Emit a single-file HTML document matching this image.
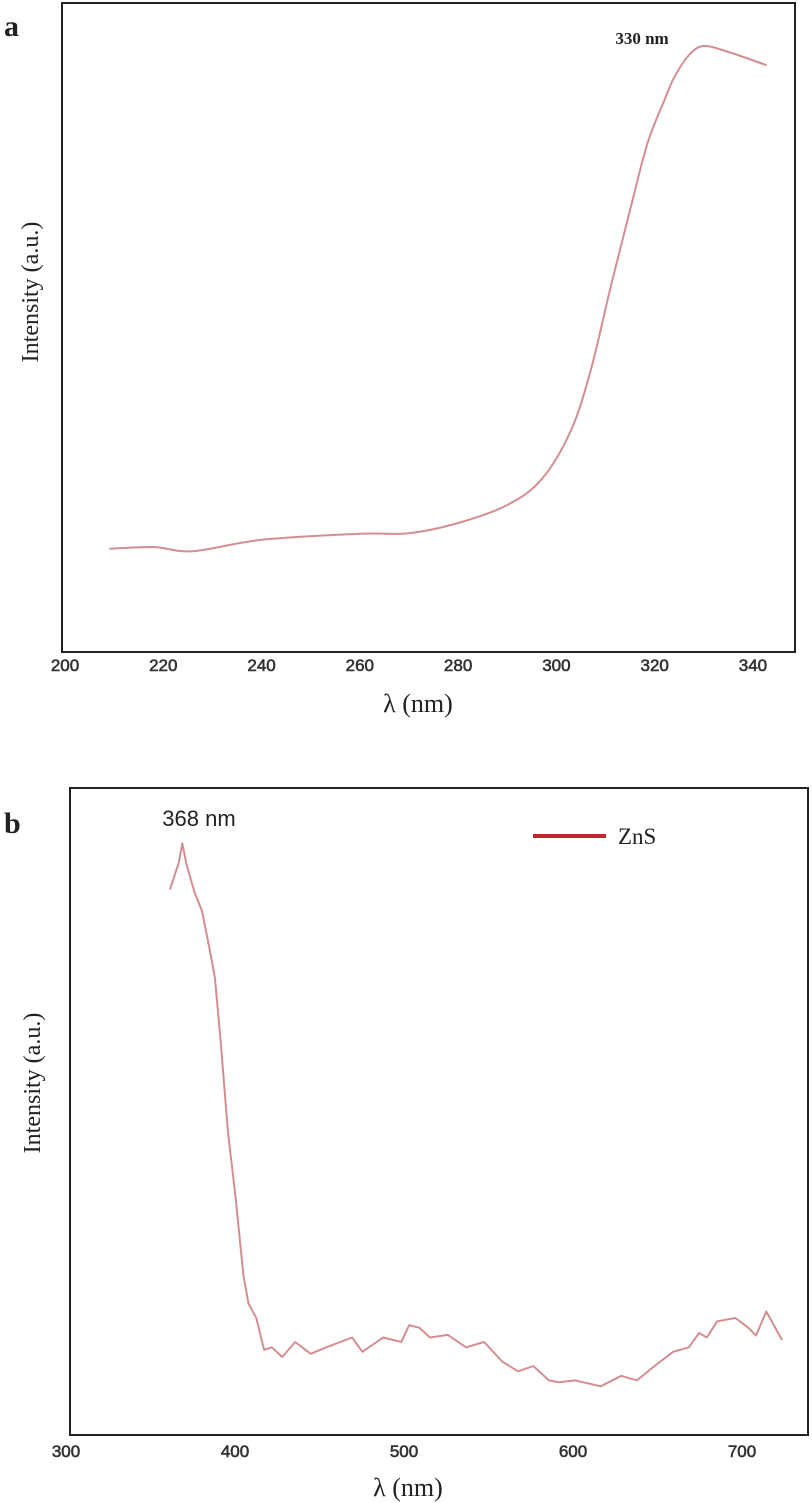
<!DOCTYPE html>
<html><head><meta charset="utf-8">
<style>
html,body{margin:0;padding:0;background:#fff;}
svg{display:block;}
.tick{font-family:"Liberation Sans",sans-serif;font-size:17px;fill:#333;stroke:#333;stroke-width:0.6;}
.serif{font-family:"Liberation Serif",serif;fill:#222;}
</style></head>
<body>
<svg id="chart" width="812" height="1503" viewBox="0 0 812 1503" xmlns="http://www.w3.org/2000/svg">
  <text x="4" y="36" class="serif" font-size="30" font-weight="bold">a</text>
  <text x="4" y="833" class="serif" font-size="30" font-weight="bold">b</text>
  <rect x="62" y="3" width="733" height="649" fill="none" stroke="#222" stroke-width="2"/>
  <rect x="70" y="788" width="738" height="647" fill="none" stroke="#222" stroke-width="2"/>
  <text transform="translate(38,292) rotate(-90)" text-anchor="middle" class="serif" font-size="24">Intensity (a.u.)</text>
  <text transform="translate(40,1083) rotate(-90)" text-anchor="middle" class="serif" font-size="24">Intensity (a.u.)</text>
  <text x="418" y="712" text-anchor="middle" class="serif" font-size="26">λ (nm)</text>
  <text x="408" y="1496" text-anchor="middle" class="serif" font-size="26">λ (nm)</text>
  <text x="642" y="44" text-anchor="middle" class="serif" font-size="17" font-weight="bold">330 nm</text>
  <text x="199" y="826" text-anchor="middle" font-family="Liberation Sans, sans-serif" font-size="22" fill="#222">368 nm</text>
  <line x1="533" y1="836" x2="606" y2="836" stroke="#c0282d" stroke-width="4"/>
  <text x="618" y="844" class="serif" font-size="23">ZnS</text>
  <g id="ga"></g>
  <g id="gb"></g>
</svg>
<script>
const aTicks = [200,220,240,260,280,300,320,340];
const aX = [209,218,226,240,260,270,280,290,297,303,307,311,315,318.5,322,324,327,330,335,342.8];
const aY = [17.2,17.5,16.8,18.7,19.7,19.8,21.5,24.5,28.8,37,47,60.7,73.7,84.7,92,95.8,99.5,101,100,97.8];
const bTicks = [300,400,500,600,700];
const bX = [361.5,366.7,368.8,371.3,375.9,380.5,385.0,388.1,391.2,395.8,400.4,405.0,408.0,412.6,417.2,421.8,427.9,435.6,444.8,454.0,469.3,475.4,487.7,498.4,503.0,509.2,515.3,526.0,536.7,547.4,558.1,567.4,576.6,585.7,591.9,601.1,616.4,628.6,637.8,650.1,659.3,668.5,674.6,679.2,685.3,696.1,703.7,708.3,714.4,723.7];
const bY = [83.9,88.0,91.0,87.8,83.6,80.6,74.7,70.3,61.6,46.7,36.4,24.6,20.2,18.0,13.1,13.5,12.0,14.3,12.5,13.5,15.0,12.8,15.0,14.3,16.9,16.5,15.0,15.4,13.5,14.3,11.3,9.8,10.6,8.4,8.1,8.4,7.5,9.1,8.4,11.0,12.8,13.5,15.7,15.0,17.5,18.0,16.5,15.3,19.0,14.6];

const NS = "http://www.w3.org/2000/svg";
const xA = v => 65 + (v - 200) * 4.914;
const yA = v => 652 - v * 6;
const xB = v => 66 + (v - 300) * 1.69;
const yB = v => 1435 - v * 6.5;

function draw(g, xs, ys, fx, fy, name, smooth){
  const P = xs.map((x,i)=>[fx(x), fy(ys[i])]);
  let d = "M" + P[0][0].toFixed(1) + "," + P[0][1].toFixed(1);
  for(let i=1;i<P.length;i++){
    if(smooth){
      const p0 = P[Math.max(i-2,0)], p1 = P[i-1], p2 = P[i], p3 = P[Math.min(i+1,P.length-1)];
      const c1 = [p1[0]+(p2[0]-p0[0])/6, p1[1]+(p2[1]-p0[1])/6];
      const c2 = [p2[0]-(p3[0]-p1[0])/6, p2[1]-(p3[1]-p1[1])/6];
      d += "C"+c1[0].toFixed(1)+","+c1[1].toFixed(1)+" "+c2[0].toFixed(1)+","+c2[1].toFixed(1)+" "+p2[0].toFixed(1)+","+p2[1].toFixed(1);
    } else {
      d += "L" + P[i][0].toFixed(1) + "," + P[i][1].toFixed(1);
    }
  }
  const p = document.createElementNS(NS,"path");
  p.setAttribute("d", d);
  p.setAttribute("fill","none");
  p.setAttribute("stroke","#d48e92");
  p.setAttribute("stroke-width","2");
  p.setAttribute("stroke-linejoin","round");
  
  
  g.appendChild(p);
}
function ticks(g, vals, fx, y, name){
  vals.forEach(v=>{
    const t = document.createElementNS(NS,"text");
    t.setAttribute("x", fx(v));
    t.setAttribute("y", y);
    t.setAttribute("text-anchor","middle");
    t.setAttribute("class","tick");
    t.textContent = v;
    
    
    g.appendChild(t);
  });
}
const ga = document.getElementById("ga"), gb = document.getElementById("gb");
ticks(ga, aTicks, xA, 671, "x-tick-label-a");
ticks(gb, bTicks, xB, 1457, "x-tick-label-b");
draw(ga, aX, aY, xA, yA, "spectrum-line-a", true);
draw(gb, bX, bY, xB, yB, "spectrum-line-zns", false);
</script>
</body></html>
